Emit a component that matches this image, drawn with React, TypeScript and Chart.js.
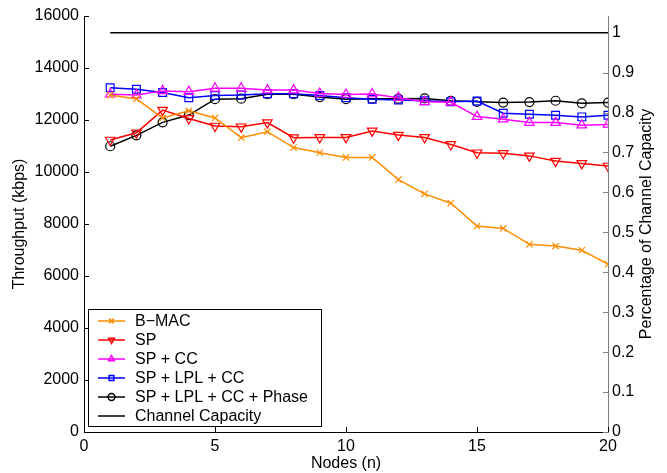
import React, { useEffect, useRef } from 'react';
import { Chart, registerables } from 'chart.js';
import { drawPoint } from 'chart.js/helpers';

Chart.register(...registerables);

const nodes = [1, 2, 3, 4, 5, 6, 7, 8, 9, 10, 11, 12, 13, 14, 15, 16, 17, 18, 19, 20];
const bmac = [12960, 12810, 12080, 12350, 12080, 11320, 11550, 10940, 10740, 10560, 10560, 9710, 9160, 8800, 7920, 7830, 7220, 7150, 6990, 6460];
const sp = [11230, 11510, 12380, 12060, 11770, 11740, 11900, 11320, 11330, 11330, 11580, 11420, 11330, 11060, 10740, 10720, 10620, 10420, 10330, 10230];
const spCc = [12990, 12960, 13120, 13090, 13220, 13220, 13150, 13150, 13020, 12980, 13000, 12860, 12700, 12680, 12130, 12030, 11900, 11900, 11800, 11830];
const spLplCc = [13240, 13180, 13060, 12860, 12940, 12960, 13010, 13010, 12940, 12860, 12800, 12770, 12740, 12700, 12730, 12260, 12220, 12180, 12120, 12180];
const spLplCcPhase = [10990, 11410, 11910, 12190, 12800, 12820, 12990, 12990, 12880, 12800, 12820, 12820, 12830, 12740, 12700, 12670, 12690, 12740, 12640, 12670];
const channelCapacity = 15360;
const capacityNodes = [1, 20];

const seriesLabels = ['B\u2212MAC', 'SP', 'SP + CC', 'SP + LPL + CC', 'SP + LPL + CC + Phase', 'Channel Capacity'];
const rightTitle = 'Percentage of Channel Capacity';

const FONT = '"Liberation Sans", Arial, Helvetica, sans-serif';

const toXY = (xs: number[], ys: number[]) => xs.map((x, i) => ({ x, y: ys[i] }));

const inwardTicks = {
  id: 'inwardTicks',
  afterDatasetsDraw(chart: any) {
    const { ctx, chartArea } = chart;
    const len = 5;
    ctx.save();
    ctx.lineWidth = 1;
    const xs = chart.scales.x;
    ctx.strokeStyle = '#000';
    xs.ticks.forEach((_t: any, i: number) => {
      const px = Math.round(xs.getPixelForTick(i)) + 0.5;
      ctx.beginPath();
      ctx.moveTo(px, chartArea.bottom);
      ctx.lineTo(px, chartArea.bottom - len);
      ctx.stroke();
    });
    const ys = chart.scales.y;
    ys.ticks.forEach((_t: any, i: number) => {
      const py = Math.round(ys.getPixelForTick(i)) + 0.5;
      ctx.beginPath();
      ctx.moveTo(chartArea.left, py);
      ctx.lineTo(chartArea.left + len, py);
      ctx.stroke();
    });
    const y1 = chart.scales.y1;
    ctx.strokeStyle = '#808080';
    y1.ticks.forEach((_t: any, i: number) => {
      const py = Math.round(y1.getPixelForTick(i)) + 0.5;
      ctx.beginPath();
      ctx.moveTo(chartArea.right, py);
      ctx.lineTo(chartArea.right - len, py);
      ctx.stroke();
    });
    ctx.restore();
  },
};

const rightAxisTitle = {
  id: 'rightAxisTitle',
  afterDraw(chart: any) {
    const { ctx, chartArea } = chart;
    const y1 = chart.scales.y1;
    ctx.save();
    ctx.font = `16px ${FONT}`;
    ctx.fillStyle = '#000';
    ctx.textAlign = 'center';
    ctx.textBaseline = 'middle';
    ctx.translate(y1.right - 20, (chartArea.top + chartArea.bottom) / 2);
    ctx.rotate(-Math.PI / 2);
    ctx.fillText(rightTitle, 0, 0);
    ctx.restore();
  },
};

const boxLegend = {
  id: 'boxLegend',
  afterDraw(chart: any) {
    const { ctx, chartArea } = chart;
    const rowH = 19;
    const boxW = 233;
    const boxH = 117;
    const x0 = chartArea.left + 4;
    const y0 = chartArea.bottom - 6 - boxH;
    ctx.save();
    ctx.fillStyle = '#fff';
    ctx.fillRect(x0, y0, boxW, boxH);
    ctx.strokeStyle = '#000';
    ctx.lineWidth = 1;
    ctx.strokeRect(x0 + 0.5, y0 + 0.5, boxW, boxH);
    ctx.font = `16px ${FONT}`;
    ctx.textBaseline = 'middle';
    chart.data.datasets.forEach((ds: any, i: number) => {
      const cy = y0 + 12 + i * rowH;
      ctx.strokeStyle = ds.borderColor;
      ctx.lineWidth = 1.5;
      ctx.beginPath();
      ctx.moveTo(x0 + 10, cy);
      ctx.lineTo(x0 + 37, cy);
      ctx.stroke();
      if (ds.pointRadius > 0) {
        ctx.fillStyle = 'rgba(0,0,0,0)';
        drawPoint(ctx, { pointStyle: ds.pointStyle, rotation: ds.pointRotation || 0, radius: 3.4, borderWidth: 1.2 } as any, x0 + 23.5, cy);
      }
      ctx.fillStyle = '#000';
      ctx.fillText(ds.label, x0 + 47, cy + 1);
    });
    ctx.restore();
  },
};

export default function App() {
  const ref = useRef<HTMLCanvasElement>(null);
  useEffect(() => {
    if (!ref.current) return;
    const mk = (label: string, data: number[], color: string, style: string, radius: number, rotation = 0) => ({
      label,
      data: toXY(nodes, data),
      borderColor: color,
      backgroundColor: 'rgba(0,0,0,0)',
      borderWidth: 1.5,
      pointStyle: style,
      pointRadius: radius,
      pointRotation: rotation,
      pointBorderWidth: 1.2,
      pointBorderColor: color,
      pointBackgroundColor: 'rgba(0,0,0,0)',
      yAxisID: 'y',
      tension: 0,
    });
    const tickFont = { family: FONT, size: 16 };
    const chart = new Chart(ref.current, {
      type: 'line',
      data: {
        datasets: [
          mk(seriesLabels[0], bmac, '#FF8C00', 'crossRot', 4.5),
          mk(seriesLabels[1], sp, '#FF0000', 'triangle', 5.5, 180),
          mk(seriesLabels[2], spCc, '#FF00FF', 'triangle', 5.5),
          mk(seriesLabels[3], spLplCc, '#0000FF', 'rect', 5.5),
          mk(seriesLabels[4], spLplCcPhase, '#000000', 'circle', 4.5),
          {
            label: seriesLabels[5],
            data: toXY(capacityNodes, capacityNodes.map(() => channelCapacity)),
            borderColor: '#000000',
            backgroundColor: 'rgba(0,0,0,0)',
            borderWidth: 1.5,
            pointRadius: 0,
            yAxisID: 'y',
          } as any,
        ],
      },
      options: {
        animation: false,
        responsive: false,
        devicePixelRatio: 1,
        layout: { padding: { top: 16, left: 0, right: 0, bottom: 0 } },
        plugins: { legend: { display: false }, tooltip: { enabled: false } },
        scales: {
          x: {
            type: 'linear',
            min: 0,
            max: 20,
            grid: { display: false, drawTicks: false },
            border: { display: true, color: '#000', width: 1 },
            ticks: { stepSize: 5, padding: 5, color: '#000', font: tickFont, maxRotation: 0, callback: (v: any) => String(v) },
            title: { display: true, text: 'Nodes (n)', color: '#000', font: tickFont, padding: { top: 0, bottom: 0 } },
            afterFit: (s: any) => { s.height = 41; },
          },
          y: {
            type: 'linear',
            position: 'left',
            min: 0,
            max: 16000,
            grid: { display: false, drawTicks: false },
            border: { display: true, color: '#000', width: 1 },
            ticks: { stepSize: 2000, padding: 5, color: '#000', font: tickFont, callback: (v: any) => String(v) },
            title: { display: true, text: 'Throughput (kbps)', color: '#000', font: tickFont, padding: { top: 10, bottom: 0 } },
            afterFit: (s: any) => { s.width = 84; },
          },
          y1: {
            type: 'linear',
            position: 'right',
            min: 0,
            max: 16000 / channelCapacity,
            grid: { display: false, drawTicks: false },
            border: { display: true, color: '#808080', width: 1 },
            ticks: {
              stepSize: 0.1,
              includeBounds: false,
              padding: 4,
              color: '#000',
              font: tickFont,
              callback: (v: any) => String(Number(Number(v).toFixed(1))),
            },
            title: { display: false },
            afterFit: (s: any) => { s.width = 59; },
          },
        },
      },
      plugins: [inwardTicks, boxLegend, rightAxisTitle],
    } as any);
    return () => chart.destroy();
  }, []);
  return (
    <div style={{ position: 'absolute', left: 0, top: 0, width: 667, height: 473, background: '#fff' }}>
      <canvas ref={ref} width={667} height={473} />
    </div>
  );
}
